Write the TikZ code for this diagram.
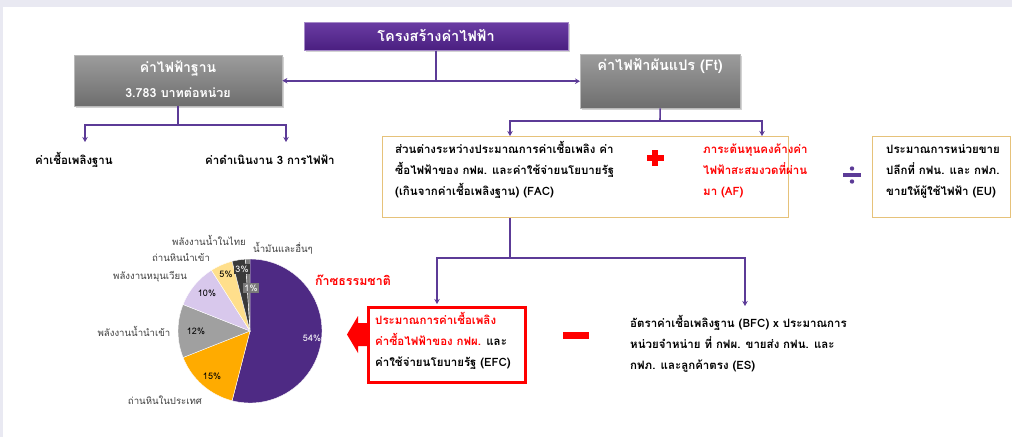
\documentclass[tikz,border=0pt]{standalone}
\usepackage{fontspec}
\setmainfont[Script=Thai]{Loma}
\usetikzlibrary{arrows.meta,shadows,calc}
\definecolor{lnpur}{HTML}{5C3B97}
\definecolor{titletop}{HTML}{6A3CA3}
\definecolor{titlebot}{HTML}{4A1F80}
\definecolor{graytop}{HTML}{9C9C9C}
\definecolor{graybot}{HTML}{6E6E6E}
\definecolor{obord}{HTML}{E6C27A}
\definecolor{piepur}{HTML}{4E2A84}
\definecolor{pieorg}{HTML}{FFAB00}
\definecolor{piegray}{HTML}{A0A0A0}
\definecolor{pielav}{HTML}{D8C8EC}
\definecolor{pieyel}{HTML}{FFDF8C}
\definecolor{piedark}{HTML}{3A3A3A}
\definecolor{pieoil}{HTML}{7A7A7A}
\definecolor{bgstrip}{HTML}{E9E9F2}
\definecolor{lbltxt}{HTML}{404040}
\definecolor{myred}{HTML}{FF0000}
\tikzset{
  conn/.style={draw=lnpur, line width=1.6pt},
  arr/.style={conn, -{Stealth[length=5pt,width=5.5pt]}},
  graybox/.style={inner sep=0pt, top color=graytop, bottom color=graybot, draw=graytop!70, line width=0.4pt,
     drop shadow={shadow xshift=1.5pt, shadow yshift=-1.5pt, opacity=0.35}},
  titlebox/.style={inner sep=0pt, top color=titletop, bottom color=titlebot, draw=titletop!60!white, line width=0.5pt,
     drop shadow={shadow xshift=1.5pt, shadow yshift=-1.5pt, opacity=0.35}},
  obox/.style={draw=obord, line width=1.2pt, inner sep=0pt},
  boxtxt/.style={font=\fontsize{11.5}{21}\selectfont\bfseries, align=left, inner sep=0pt, anchor=base west},
  plain/.style={font=\fontsize{11.5}{21}\selectfont\bfseries, inner sep=0pt},
  headtxt/.style={text=white, font=\fontsize{14.5}{16}\selectfont\bfseries, inner sep=0pt},
  pielbl/.style={font=\fontsize{9.6}{11}\selectfont, text=lbltxt, inner sep=0pt},
  pct/.style={font=\fontsize{9}{10}\selectfont, inner sep=0pt},
}
\begin{document}
\begin{tikzpicture}[x=1pt,y=-1pt]
\useasboundingbox (0,0) rectangle (1012,437);
\fill[bgstrip] (0,0) rectangle (1012,437);
\fill[white] (3,7) rectangle (1012,437);

% title and top boxes
\node[titlebox, minimum width=264pt, minimum height=28pt, anchor=north west] (t) at (304,22) {};
\node[headtxt] (tt) at (436,35) {โครงสร้างค่าไฟฟ้า};

\node[graybox, minimum width=208pt, minimum height=51pt, anchor=north west] (b) at (74,55) {};
\node[headtxt, font=\fontsize{14}{16}\selectfont\bfseries] (bt1) at (178,68) {ค่าไฟฟ้าฐาน};
\node[headtxt, font=\fontsize{12.5}{14}\selectfont\bfseries] (bt2) at (178,93) {3.783 บาทต่อหน่วย};

\node[graybox, minimum width=160pt, minimum height=54pt, anchor=north west] (f) at (580,54) {};
\node[headtxt] (ft) at (660,66) {ค่าไฟฟ้าผันแปร (Ft)};

\draw[arr] (t.south) |- (b.east);
\draw[arr] (t.south) |- (f.west);

% left branch
\node[plain, anchor=west] (fuel) at (35,160) {ค่าเชื้อเพลิงฐาน};
\node[plain, anchor=west] (oper) at (205,160) {ค่าดำเนินงาน 3 การไฟฟ้า};
\coordinate (bj) at (178,125);
\coordinate (fuelA) at (85,142);
\coordinate (operA) at (286,142);
\draw[conn] (b.south -| bj) -- (bj);
\draw[arr] (bj) -| (fuelA);
\draw[arr] (bj) -| (operA);

% Ft branch
\node[obox, minimum width=406pt, minimum height=81pt, anchor=north west] (ob) at (382,136) {};
\node[obox, minimum width=138pt, minimum height=81pt, anchor=north west] (eu) at (872,136) {};
\coordinate (fj) at (660,121);
\coordinate (facA) at (510,136);
\coordinate (afA) at (762,136);
\draw[conn] (f.south) -- (fj);
\draw[arr] (fj) -| (facA);
\draw[arr] (fj) -| (afA);

\node[boxtxt] (fac) at (395,195) {ส่วนต่างระหว่างประมาณการค่าเชื้อเพลิง ค่า\\ซื้อไฟฟ้าของ กฟผ. และค่าใช้จ่ายนโยบายรัฐ\\(เกินจากค่าเชื้อเพลิงฐาน) (FAC)};
\node[boxtxt, text=myred] (af) at (703,195) {ภาระต้นทุนคงค้างค่า\\ไฟฟ้าสะสมงวดที่ผ่าน\\มา (AF)};
\node[boxtxt] (eut) at (886,195) {ประมาณการหน่วยขาย\\ปลีกที่ กฟน. และ กฟภ.\\ขายให้ผู้ใช้ไฟฟ้า (EU)};

% plus
\node[inner sep=0pt, minimum size=0pt] (plus) at (655,158) {};
\fill[myred] ($(plus)+(-8.5,-2.8)$) rectangle ($(plus)+(8.5,2.8)$);
\fill[myred] ($(plus)+(-2.8,-8)$) rectangle ($(plus)+(2.8,8)$);
% divide
\node[inner sep=0pt, minimum size=0pt] (div) at (852,175) {};
\fill[lnpur] ($(div)+(-9,-1.7)$) rectangle ($(div)+(9,1.7)$);
\fill[lnpur] ($(div)+(0,-6.5)$) circle[radius=2.2pt];
\fill[lnpur] ($(div)+(0,6.5)$) circle[radius=2.2pt];

% lower branch
\node[draw=myred, line width=2.5pt, minimum width=157pt, minimum height=75pt, anchor=north west, inner sep=0pt] (efc) at (367,306) {};
\node[boxtxt] (efct) at (375,366) {\textcolor{myred}{ประมาณการค่าเชื้อเพลิง}\\\textcolor{myred}{ค่าซื้อไฟฟ้าของ กฟผ.} และ\\ค่าใช้จ่ายนโยบายรัฐ (EFC)};
\node[boxtxt] (es) at (630,369) {อัตราค่าเชื้อเพลิงฐาน (BFC) x ประมาณการ\\หน่วยจำหน่าย ที่ กฟผ. ขายส่ง กฟน. และ\\กฟภ. และลูกค้าตรง (ES)};
\coordinate (lj) at (510,258);
\coordinate (efcA) at (437,304);
\coordinate (esA) at (745,306);
\draw[conn] (ob.south -| lj) -- (lj);
\draw[arr] (lj) -| (efcA);
\draw[arr] (lj) -| (esA);

% minus
\node[inner sep=0pt, minimum size=0pt] (minus) at (576,335.5) {};
\fill[myred] ($(minus)+(-13,-3.5)$) rectangle ($(minus)+(13,3.5)$);

% big red arrow
\fill[myred] (347,334.5) -- (358,316) -- (358,323) -- (367,323) -- (367,346) -- (358,346) -- (358,353) -- cycle;

% pie chart
\coordinate (pc) at (250,331);
\def\R{72pt}
\foreach \a/\b/\c in {90/-104.4/piepur, -104.4/-158.4/pieorg, -158.4/-201.6/piegray, -201.6/-237.6/pielav, -237.6/-255.6/pieyel, -255.6/-266.4/piedark, -266.4/-270/pieoil}{
  \filldraw[fill=\c, draw=white, line width=0.4pt] (pc) -- ++(\a:\R) arc[start angle=\a, end angle=\b, radius=\R] -- cycle;
}
\node[pct, text=white] (p54) at (312,338) {54\%};
\node[pct] (p15) at (212,376) {15\%};
\node[pct] (p12) at (196,331) {12\%};
\node[pct] (p10) at (207,293) {10\%};
\node[pct] (p5) at (226,274) {5\%};
\node[pct, text=white, fill=piedark, inner sep=1.5pt] (p3) at (242,269) {3\%};
\node[pct, text=white, fill=pieoil, inner sep=1.5pt] (p1) at (251,288) {1\%};

\node[pielbl] (l1) at (209,240) {พลังงานน้ำในไทย};
\node[pielbl] (l2) at (283,248) {น้ำมันและอื่นๆ};
\node[pielbl] (l3) at (181,258) {ถ่านหินนำเข้า};
\node[pielbl] (l4) at (150,277) {พลังงานหมุนเวียน};
\node[pielbl] (l5) at (134,331) {พลังงานน้ำนำเข้า};
\node[pielbl] (l6) at (165,400) {ถ่านหินในประเทศ};
\node[font=\fontsize{12.4}{14}\selectfont\bfseries, text=myred, inner sep=0pt] (l7) at (353,280) {ก๊าซธรรมชาติ};
\end{tikzpicture}
\end{document}
